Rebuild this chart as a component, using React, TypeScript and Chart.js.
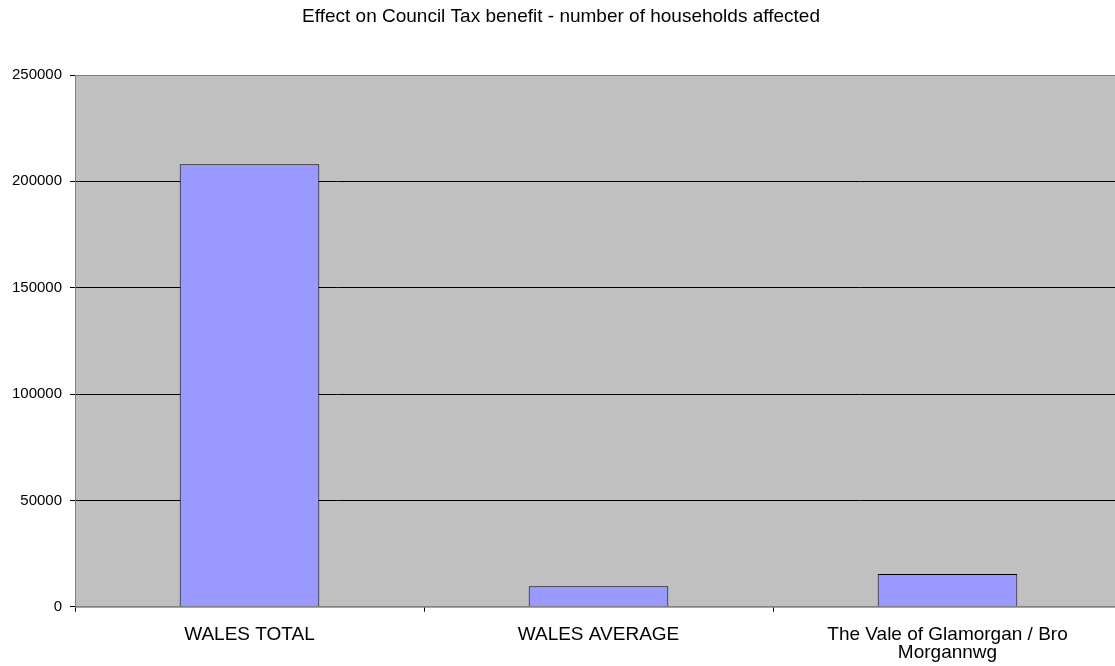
import React, { useEffect, useRef } from "react";
import { Chart, registerables } from "chart.js";

Chart.register(...registerables);

const categories: (string | string[])[] = [
  "WALES TOTAL",
  "WALES AVERAGE",
  ["The Vale of Glamorgan / Bro", "Morgannwg"],
];
const households: number[] = [208000, 9600, 15400];
const yTicks: number[] = [0, 50000, 100000, 150000, 200000, 250000];
const chartTitle = "Effect on Council Tax benefit - number of households affected";

const FONT = "'Liberation Sans', Arial, sans-serif";

const plotBg = {
  id: "plotBg",
  beforeDraw(chart: any) {
    const { ctx, chartArea } = chart;
    ctx.save();
    ctx.fillStyle = "#C0C0C0";
    ctx.fillRect(chartArea.left, chartArea.top, chartArea.right - chartArea.left, chartArea.bottom - chartArea.top);
    ctx.restore();
  },
  beforeDatasetsDraw(chart: any) {
    const { ctx, chartArea } = chart;
    ctx.save();
    ctx.strokeStyle = "#808080";
    ctx.lineWidth = 1;
    ctx.strokeRect(chartArea.left + 0.5, chartArea.top + 0.5, chartArea.right - chartArea.left - 1, chartArea.bottom - chartArea.top);
    ctx.restore();
  },
};

export default function App() {
  const ref = useRef<HTMLCanvasElement>(null);
  useEffect(() => {
    document.body.style.margin = "0";
    const chart = new Chart(ref.current!, {
      type: "bar",
      data: {
        labels: categories as any,
        datasets: [
          {
            data: households,
            backgroundColor: "#9999FF",
            borderColor: "#000000",
            borderWidth: 1,
            barPercentage: 0.4,
            categoryPercentage: 1,
          },
        ],
      },
      options: {
        animation: false,
        responsive: false,
        devicePixelRatio: 1,
        layout: { padding: { left: 0, right: 3, top: 0, bottom: 0 } },
        plugins: {
          legend: { display: false },
          tooltip: { enabled: false },
          title: {
            display: true,
            text: chartTitle,
            color: "#000",
            font: { family: FONT, size: 19, weight: "normal", lineHeight: 1.2 },
            padding: { top: 5.6, bottom: 46.6 },
          },
        },
        scales: {
          x: {
            grid: { offset: true, drawOnChartArea: false, color: "#000", tickLength: 5 },
            border: { color: "#808080", width: 1 },
            ticks: {
              color: "#000",
              font: { family: FONT, size: 19, lineHeight: 0.95 },
              maxRotation: 0,
              autoSkip: false,
              padding: 14,
            },
            afterFit: (s: any) => {
              s.height = 59.3;
            },
          },
          y: {
            min: 0,
            max: 250000,
            afterBuildTicks: (s: any) => {
              s.ticks = yTicks.map((v) => ({ value: v }));
            },
            grid: {
              color: "#000",
              lineWidth: 1,
              tickLength: 5,
            },
            border: { color: "#808080", width: 1 },
            ticks: {
              color: "#000",
              font: { family: FONT, size: 15 },
              padding: 8,
              callback: (v: any) => String(v),
            },
            afterFit: (s: any) => {
              s.width = 75;
            },
          },
        },
      },
      plugins: [plotBg],
    });
    return () => chart.destroy();
  }, []);
  return (
    <div style={{ width: 1115, height: 666, overflow: "hidden" }}>
      <canvas ref={ref} width={1125} height={666} style={{ display: "block" }} />
    </div>
  );
}
